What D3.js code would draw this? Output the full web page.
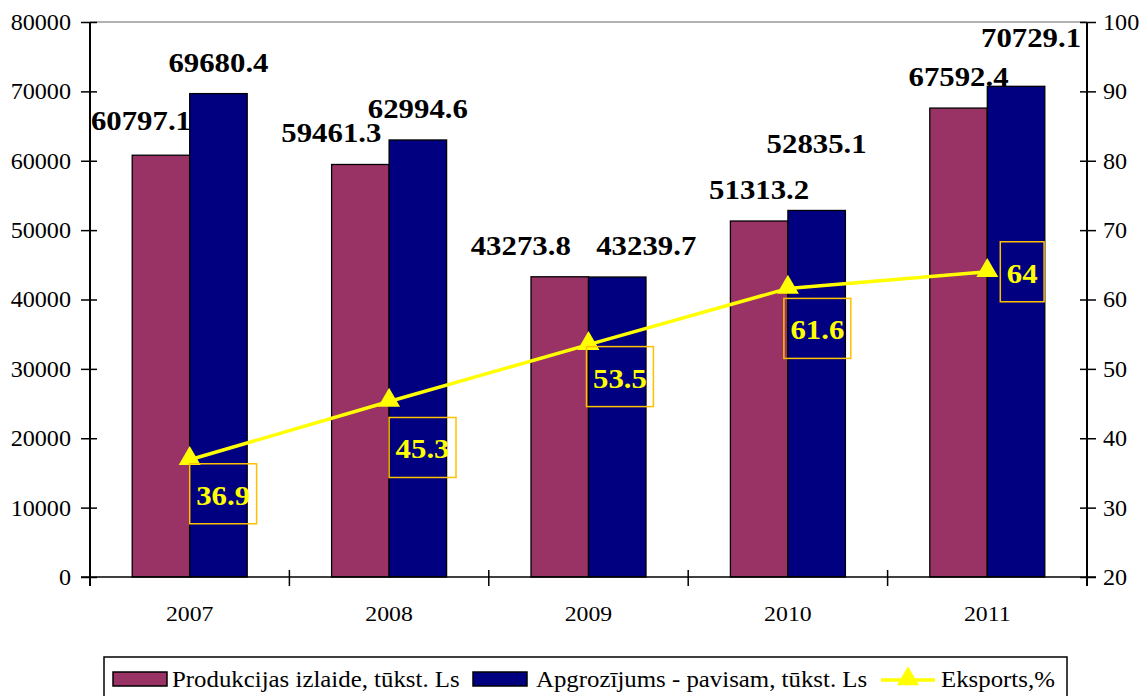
<!DOCTYPE html>
<html>
<head>
<meta charset="utf-8">
<script src="https://cdn.jsdelivr.net/npm/d3@7"></script>
<style>
  html, body { margin: 0; padding: 0; background: #fff; }
  svg text { font-family: "Liberation Serif", "Times New Roman", Times, "DejaVu Serif", serif; }
</style>
</head>
<body>
<svg id="chart" width="1143" height="696"></svg>
<script>
// ---- data ----
const years = ["2007", "2008", "2009", "2010", "2011"];
const production = [60797.1, 59461.3, 43273.8, 51313.2, 67592.4];
const turnover = [69680.4, 62994.6, 43239.7, 52835.1, 70729.1];
const exportPct = [36.9, 45.3, 53.5, 61.6, 64];
const leftTicks = [0, 10000, 20000, 30000, 40000, 50000, 60000, 70000, 80000];
const rightTicks = [20, 30, 40, 50, 60, 70, 80, 90, 100];
const seriesNames = ["Produkcijas izlaide, tūkst. Ls", "Apgrozījums - pavisam, tūkst. Ls", "Eksports,%"];

// manual label nudges (pixels), as placed in the original
const prodLabelNudge = [[-20, -3], [-29, 0], [-39, 0], [0, 0], [0, 0]];
const turnLabelNudge = [[0, 0], [0, 0], [29, 0], [0, -35], [15, -17]];
const pctBoxNudge = [[0, 4], [0, 16], [-2, 2], [-4, 10], [13, -30]];

const FONT = '"Liberation Serif", "Times New Roman", Times, "DejaVu Serif", serif';
const colors = { prod: "#993366", turn: "#000080", line: "#FFFF00", box: "#FFC000" };

// horizontal stretch of text (the original rendering is slightly wide)
function stretch(sel, k) {
  sel.each(function () {
    const w = this.getComputedTextLength();
    d3.select(this).attr("textLength", w * k).attr("lengthAdjust", "spacingAndGlyphs");
  });
}

const svg = d3.select("#chart");
const L = 90, R = 1087, T = 22, B = 577;

const x0 = d3.scaleBand().domain(years).range([L, R]).padding(0);
const x1 = d3.scaleBand().domain(["prod", "turn"]).range([0, x0.bandwidth()]).paddingInner(0).paddingOuter(0.734);
const yL = d3.scaleLinear().domain([0, 80000]).range([B, T]);
const yR = d3.scaleLinear().domain([20, 100]).range([B, T]);

// top border line (gray)
svg.append("line").attr("x1", L).attr("x2", R).attr("y1", T).attr("y2", T)
  .attr("stroke", "#999").attr("stroke-width", 1.5);

// bars
const groups = svg.append("g").selectAll("g").data(years).join("g")
  .attr("transform", d => `translate(${x0(d)},0)`);
groups.append("rect")
  .attr("x", x1("prod")).attr("width", x1.bandwidth())
  .attr("y", (d, i) => yL(production[i])).attr("height", (d, i) => B - yL(production[i]))
  .attr("fill", colors.prod).attr("stroke", "#000").attr("stroke-width", 1.3);
groups.append("rect")
  .attr("x", x1("turn")).attr("width", x1.bandwidth())
  .attr("y", (d, i) => yL(turnover[i])).attr("height", (d, i) => B - yL(turnover[i]))
  .attr("fill", colors.turn).attr("stroke", "#000").attr("stroke-width", 1.3);

// value labels
const vl1 = groups.append("text")
  .attr("x", (d, i) => x1("prod") + x1.bandwidth() / 2 + prodLabelNudge[i][0])
  .attr("y", (d, i) => yL(production[i]) - 22 + prodLabelNudge[i][1])
  .attr("text-anchor", "middle").attr("font-weight", "bold").attr("font-size", 28)
  .text((d, i) => d3.format(".1f")(production[i]));
const vl2 = groups.append("text")
  .attr("x", (d, i) => x1("turn") + x1.bandwidth() / 2 + turnLabelNudge[i][0])
  .attr("y", (d, i) => yL(turnover[i]) - 22 + turnLabelNudge[i][1])
  .attr("text-anchor", "middle").attr("font-weight", "bold").attr("font-size", 28)
  .text((d, i) => d3.format(".1f")(turnover[i]));
stretch(vl1, 1.1);
stretch(vl2, 1.1);

// axes
const axisL = svg.append("g").attr("transform", `translate(${L},0)`)
  .call(d3.axisLeft(yL).tickValues(leftTicks).tickFormat(d3.format("d")).tickSize(9).tickPadding(10));
axisL.selectAll(".tick line").attr("x2", 7).attr("x1", -9);
const axisR = svg.append("g").attr("transform", `translate(${R},0)`)
  .call(d3.axisRight(yR).tickValues(rightTicks).tickSize(9).tickPadding(7));
axisR.selectAll(".tick line").attr("x1", -7).attr("x2", 9);
[axisL, axisR].forEach(a => {
  a.attr("font-family", FONT);
  a.select(".domain").remove();
  a.selectAll(".tick line").attr("stroke", "#000").attr("stroke-width", 1.5);
  a.selectAll(".tick text").attr("font-size", 23).attr("fill", "#000");
  stretch(a.selectAll(".tick text"), 1.05);
});
svg.append("line").attr("x1", L).attr("x2", L).attr("y1", T).attr("y2", B + 9).attr("stroke", "#000").attr("stroke-width", 2);
svg.append("line").attr("x1", R).attr("x2", R).attr("y1", T).attr("y2", B + 9).attr("stroke", "#000").attr("stroke-width", 2);

// bottom axis
svg.append("line").attr("x1", L - 9).attr("x2", R + 9).attr("y1", B).attr("y2", B).attr("stroke", "#000").attr("stroke-width", 1.5);
const bounds = years.slice(1).map(y => x0(y));
svg.append("g").selectAll("line").data(bounds).join("line")
  .attr("x1", d => d).attr("x2", d => d).attr("y1", B - 7).attr("y2", B + 9)
  .attr("stroke", "#000").attr("stroke-width", 1.5);
const yearText = svg.append("g").selectAll("text").data(years).join("text")
  .attr("x", d => x0(d) + x0.bandwidth() / 2).attr("y", 621)
  .attr("text-anchor", "middle").attr("font-size", 22).text(d => d);
stretch(yearText, 1.08);

// line
const pts = years.map((y, i) => [x0(y) + x0.bandwidth() / 2, yR(exportPct[i])]);
svg.append("path").attr("d", d3.line()(pts)).attr("fill", "none")
  .attr("stroke", colors.line).attr("stroke-width", 3.5);
const tri = d3.symbol().type(d3.symbolTriangle).size(210);
svg.append("g").selectAll("path").data(pts).join("path")
  .attr("d", tri).attr("transform", d => `translate(${d[0]},${d[1] - 1})`)
  .attr("fill", colors.line);

// percentage label boxes
const pctG = svg.append("g").selectAll("g").data(pts).join("g")
  .attr("transform", (d, i) => `translate(${d[0] + pctBoxNudge[i][0]},${d[1] + pctBoxNudge[i][1]})`);
pctG.each(function (d, i) {
  const g = d3.select(this);
  const t = g.append("text").attr("font-weight", "bold").attr("font-size", 28)
    .attr("fill", colors.line).text(String(exportPct[i]));
  const w = t.node().getComputedTextLength() * 1.1;
  t.attr("textLength", w).attr("lengthAdjust", "spacingAndGlyphs");
  const bw = w + 13, bh = 60;
  g.insert("rect", "text").attr("x", 0).attr("y", 0).attr("width", bw).attr("height", bh)
    .attr("fill", "none").attr("stroke", colors.box).attr("stroke-width", 1.5);
  t.attr("x", bw / 2).attr("y", 41).attr("text-anchor", "middle");
});

// legend
const lg = svg.append("g");
lg.append("rect").attr("x", 104).attr("y", 657).attr("width", 963).attr("height", 50)
  .attr("fill", "#fff").attr("stroke", "#000").attr("stroke-width", 1.5);
lg.append("rect").attr("x", 113).attr("y", 672).attr("width", 54).attr("height", 14)
  .attr("fill", colors.prod).attr("stroke", "#000").attr("stroke-width", 1.5);
lg.append("rect").attr("x", 473).attr("y", 672).attr("width", 54).attr("height", 14)
  .attr("fill", colors.turn).attr("stroke", "#000").attr("stroke-width", 1.5);
lg.append("line").attr("x1", 881).attr("x2", 935).attr("y1", 680).attr("y2", 680)
  .attr("stroke", colors.line).attr("stroke-width", 3.5);
lg.append("path").attr("d", tri).attr("transform", "translate(908,679)").attr("fill", colors.line);
const legendX = [172, 536, 941];
const lgText = lg.selectAll("text.lt").data(seriesNames).join("text").attr("class", "lt")
  .attr("x", (d, i) => legendX[i]).attr("y", 687).attr("font-size", 23).text(d => d);
stretch(lgText, 1.08);
</script>
</body>
</html>
